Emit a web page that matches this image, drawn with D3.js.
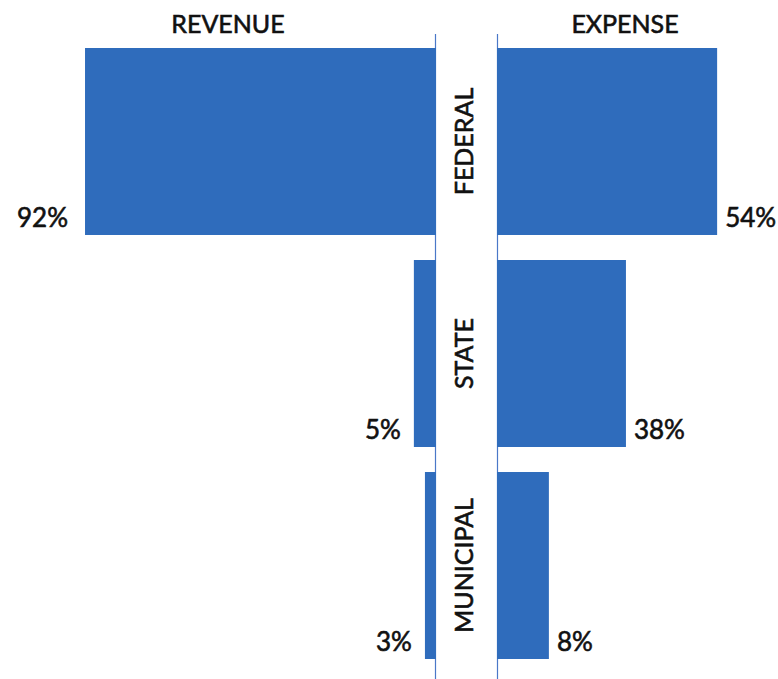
<!DOCTYPE html>
<html>
<head>
<meta charset="utf-8">
<script src="https://cdn.jsdelivr.net/npm/d3@7"></script>
<style>
  html, body { margin: 0; padding: 0; background: #ffffff; }
  svg { display: block; }
  text { font-family: Lato, "Open Sans", sans-serif; fill: #111; stroke: #111; stroke-width: 0.6px; }
</style>
</head>
<body>
<svg id="chart" width="778" height="679"></svg>
<script>
// ---- data ----
const categories = ["FEDERAL", "STATE", "MUNICIPAL"];
const revenueLabels = ["92%", "5%", "3%"];
const expenseLabels = ["54%", "38%", "8%"];
// bar lengths as drawn (in percent units on a shared scale)
const revenueBars = [92, 5.8, 2.9];
const expenseBars = [57.7, 33.8, 13.6];
const headers = ["REVENUE", "EXPENSE"];

const W = 778, H = 679;
const svg = d3.select("#chart");
const barColor = "#2F6CBC";
const lineColor = "#4A78C8";

const leftAxisX = 436;   // revenue bars grow leftwards from here
const rightAxisX = 497;  // expense bars grow rightwards from here

const x = d3.scaleLinear().domain([0, 100]).range([0, 381.5]);
const y = d3.scaleBand().domain(categories).range([48, 659]).paddingInner(0.118).paddingOuter(0);

// axis lines
svg.append("line").attr("x1", leftAxisX - 0.5).attr("x2", leftAxisX - 0.5)
  .attr("y1", 34).attr("y2", H).attr("stroke", lineColor).attr("stroke-width", 1.2);
svg.append("line").attr("x1", rightAxisX + 0.5).attr("x2", rightAxisX + 0.5)
  .attr("y1", 34).attr("y2", H).attr("stroke", lineColor).attr("stroke-width", 1.2);

// revenue bars
svg.selectAll("rect.rev").data(categories).join("rect").attr("class", "rev")
  .attr("x", (d, i) => leftAxisX - x(revenueBars[i]))
  .attr("y", d => y(d))
  .attr("width", (d, i) => x(revenueBars[i]))
  .attr("height", y.bandwidth())
  .attr("fill", barColor);

// expense bars
svg.selectAll("rect.exp").data(categories).join("rect").attr("class", "exp")
  .attr("x", rightAxisX)
  .attr("y", d => y(d))
  .attr("width", (d, i) => x(expenseBars[i]))
  .attr("height", y.bandwidth())
  .attr("fill", barColor);

// revenue value labels
const revGap = [17, 13, 13];
svg.selectAll("text.revlab").data(categories).join("text").attr("class", "revlab")
  .attr("x", (d, i) => leftAxisX - x(revenueBars[i]) - revGap[i])
  .attr("y", d => y(d) + y.bandwidth() - 8)
  .attr("text-anchor", "end")
  .style("font-size", "26px")
  .text((d, i) => revenueLabels[i]);

// expense value labels
svg.selectAll("text.explab").data(categories).join("text").attr("class", "explab")
  .attr("x", (d, i) => rightAxisX + x(expenseBars[i]) + 8)
  .attr("y", d => y(d) + y.bandwidth() - 8)
  .attr("text-anchor", "start")
  .style("font-size", "26px")
  .text((d, i) => expenseLabels[i]);

// category labels (rotated)
svg.selectAll("text.cat").data(categories).join("text").attr("class", "cat")
  .attr("transform", d => `translate(473,${y(d) + y.bandwidth() / 2}) rotate(-90)`)
  .attr("text-anchor", "middle")
  .style("font-size", "25px")
  .text(d => d);

// headers
const headerX = [228, 625];
svg.selectAll("text.hdr").data(headers).join("text").attr("class", "hdr")
  .attr("x", (d, i) => headerX[i])
  .attr("y", 33)
  .attr("text-anchor", "middle")
  .style("font-size", "25px")
  .text(d => d);
</script>
</body>
</html>
